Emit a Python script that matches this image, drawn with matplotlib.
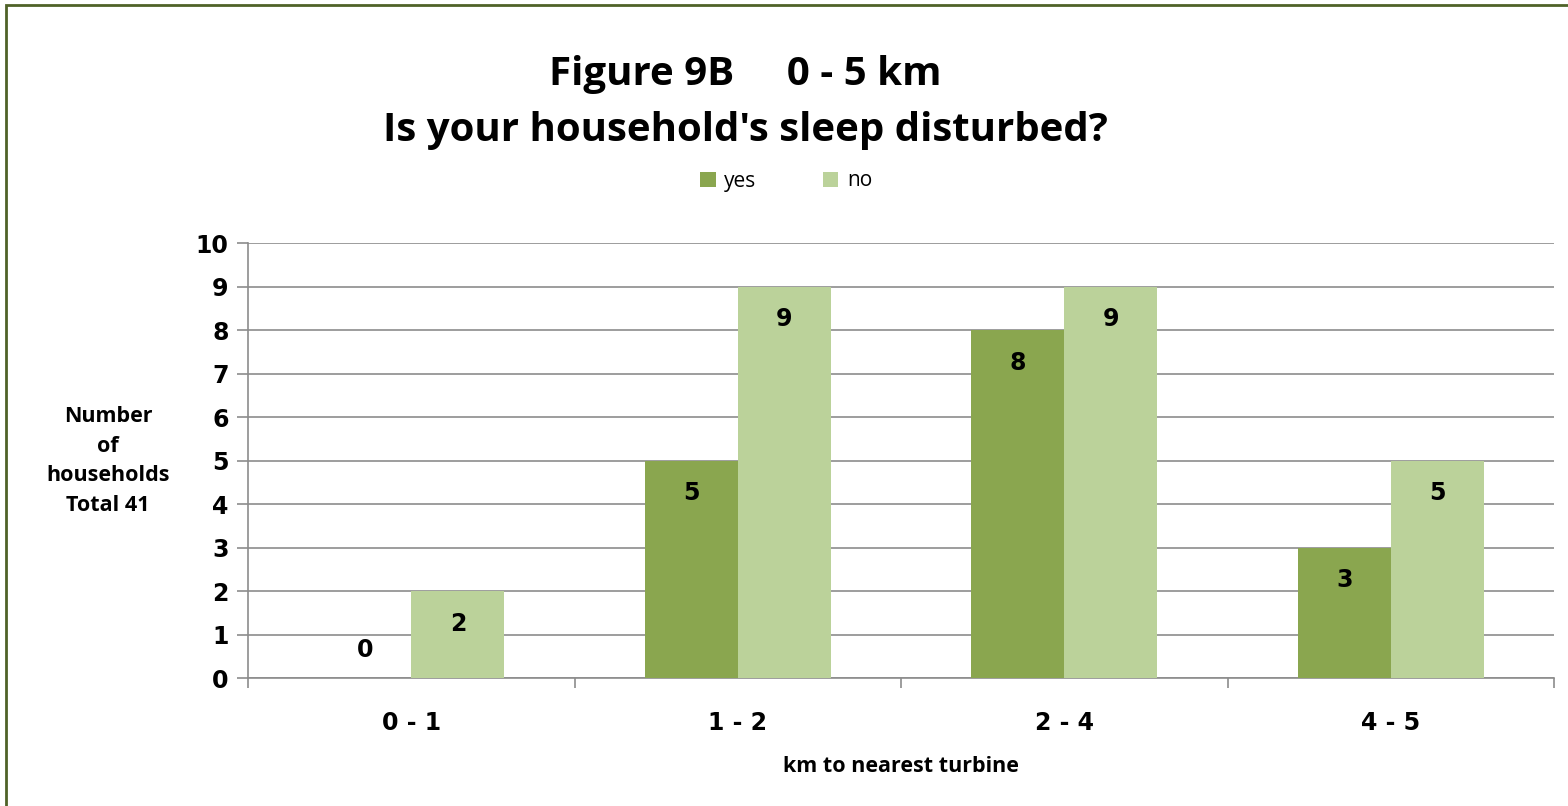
import numpy as np
import matplotlib.pyplot as plt
from matplotlib.patches import Rectangle

categories = ["0 - 1", "1 - 2", "2 - 4", "4 - 5"]
yes_counts = [0, 5, 8, 3]
no_counts = [2, 9, 9, 5]
series_names = ["yes", "no"]

yes_color = "#8AA64F"
no_color = "#BBD29A"
grid_color = "#8C8C8C"

fig = plt.figure(figsize=(15.68, 8.06), dpi=100)
ax = fig.add_axes([0.1582, 0.1588, 0.8329, 0.5397])

x = np.arange(len(categories))
w = 0.285
b1 = ax.bar(x - w / 2, yes_counts, w, color=yes_color, label=series_names[0], zorder=3)
b2 = ax.bar(x + w / 2, no_counts, w, color=no_color, label=series_names[1], zorder=3)

# data labels inside the bar end (zero sits just above the baseline)
for bars, vals in ((b1, yes_counts), (b2, no_counts)):
    for rect, v in zip(bars, vals):
        cx = rect.get_x() + rect.get_width() / 2
        y = v - 0.75 if v > 0 else 0.65
        ax.text(cx, y, str(v), ha="center", va="center", fontsize=17,
                fontweight="bold", family="DejaVu Sans", color="black", zorder=4)

ax.set_xlim(-0.5, len(categories) - 0.5)
ax.set_ylim(0, 10)
ax.set_yticks(range(0, 11))
ax.set_xticks(x)
ax.set_xticklabels(categories)
ax.set_xticks(np.arange(-0.5, len(categories)), minor=True)
ax.tick_params(axis="x", which="major", length=0, pad=24)
ax.tick_params(axis="x", which="minor", length=7, color=grid_color, width=1.2)
ax.tick_params(axis="y", length=8, color=grid_color, width=1.2, pad=6)
for lab in ax.get_xticklabels() + ax.get_yticklabels():
    lab.set_fontsize(17)
    lab.set_fontweight("bold")
    lab.set_family("DejaVu Sans")

ax.grid(axis="y", color=grid_color, linewidth=1.2, zorder=0)
for s in ("top", "right"):
    ax.spines[s].set_visible(False)
for s in ("left", "bottom"):
    ax.spines[s].set_color(grid_color)
    ax.spines[s].set_linewidth(1.2)

ax.set_xlabel("km to nearest turbine", fontsize=15.5, fontweight="bold",
              family="Open Sans", labelpad=15)

fig.text(108 / 1568, 1 - 461 / 806, "Number\nof\nhouseholds\nTotal 41",
         ha="center", va="center", fontsize=15.5, fontweight="bold",
         family="Open Sans", linespacing=1.55)

fig.text(745 / 1568, 1 - 75 / 806, "Figure 9B     0 - 5 km", ha="center", va="center",
         fontsize=29, fontweight="bold", family="Open Sans")
fig.text(745 / 1568, 1 - 131 / 806, "Is your household's sleep disturbed?", ha="center",
         va="center", fontsize=29, fontweight="bold", family="Open Sans")

fig.legend(handles=[b1, b2], loc="center", bbox_to_anchor=(786 / 1568, 1 - 181 / 806),
           ncol=2, frameon=False, prop={"family": "Open Sans", "size": 15},
           handlelength=0.75, handleheight=0.75, handletextpad=0.4, columnspacing=3.2)

# outer chart border
fig.patches.append(Rectangle((6 / 1568, -0.05), 1.2, 1 - 5 / 806 + 0.05,
                             transform=fig.transFigure, fill=False,
                             edgecolor="#4F6228", linewidth=2))

fig.savefig("out.png", dpi=100)
